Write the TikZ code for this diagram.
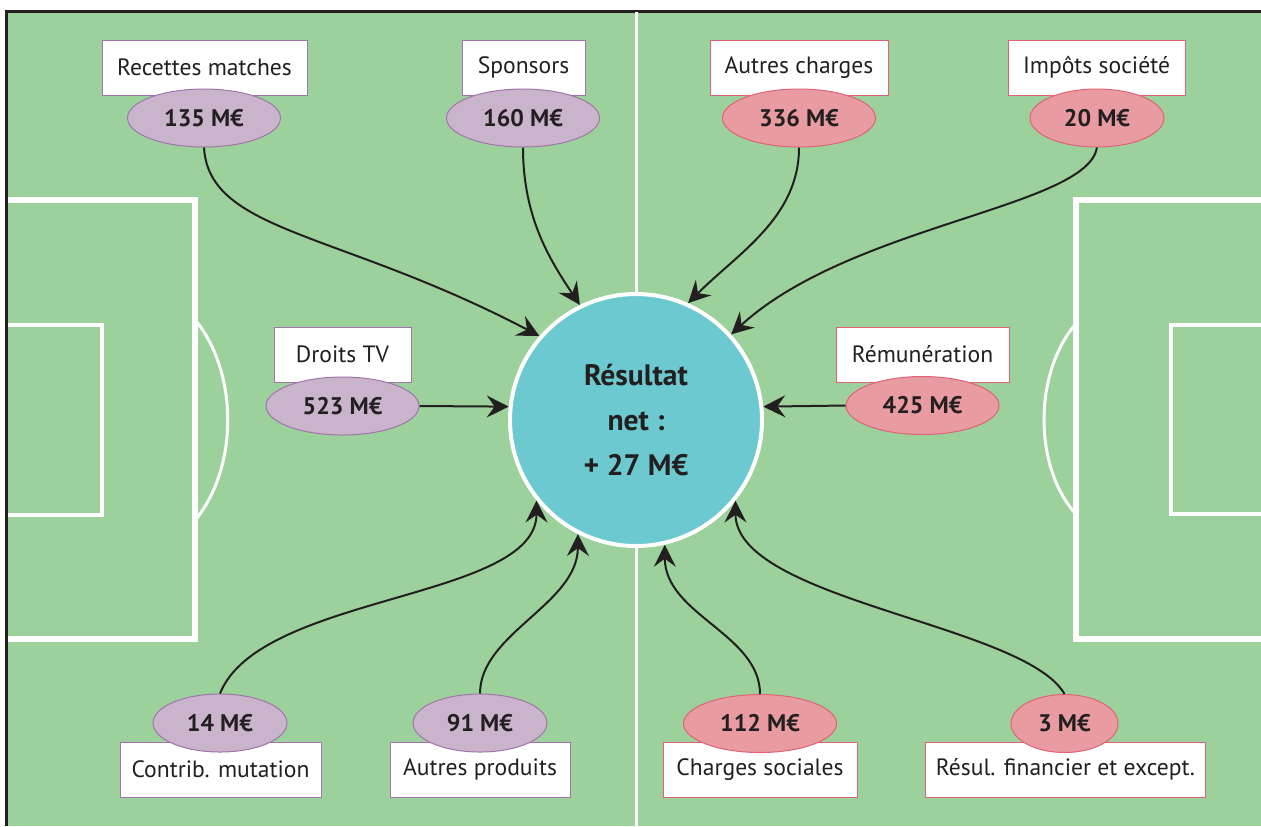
\documentclass[tikz,border=0pt]{standalone}
\usepackage{fontspec}
\setmainfont{PT Sans}
\usetikzlibrary{shapes.geometric,arrows.meta}

\definecolor{pitch}{HTML}{9CD19B}
\definecolor{resfill}{HTML}{6CC9D0}
\definecolor{inedge}{HTML}{A174AB}
\definecolor{infill}{HTML}{C9B4CC}
\definecolor{outedge}{HTML}{E06277}
\definecolor{outfill}{HTML}{E89CA1}
\definecolor{ink}{HTML}{231F20}

\begin{document}
\begin{tikzpicture}[x=0.5pt, y=-0.5pt,
    pitchline/.style={draw=white, line width=#1},
    lbl/.style={rectangle, fill=white, line width=0.5pt, minimum height=27.5pt,
        text=ink, font=\fontsize{11.8}{13}\selectfont},
    inlbl/.style={lbl, draw=inedge},
    outlbl/.style={lbl, draw=outedge},
    val/.style={ellipse, line width=0.5pt, minimum height=29pt, inner sep=0pt,
        text=ink, font=\fontsize{12}{14}\selectfont\bfseries},
    inval/.style={val, draw=inedge, fill=infill},
    outval/.style={val, draw=outedge, fill=outfill},
    flow/.style={draw=ink, line width=1pt, -{Stealth[length=11pt, width=11pt, inset=4pt]}}]

    \useasboundingbox (0,0) rectangle (1261,826);
    \clip (0,0) rectangle (1261,826);

    % Pitch
    \fill[pitch] (7,11) rectangle (1261,826);
    \draw[ink, line width=1.5pt] (6.5,826) -- (6.5,11) -- (1261,11);
    \draw[pitchline=1.5pt] (636,12) -- (636,826);

    % Left penalty area
    \draw[pitchline=3pt] (8,200) -- (195,200) -- (195,639) -- (8,639);
    \draw[pitchline=2pt] (8,325) -- (102,325) -- (102,515) -- (8,515);
    \draw[pitchline=1.5pt] (197,322) .. controls (238,375) and (238,465) .. (197,518);

    % Right penalty area
    \draw[pitchline=3pt] (1270,200) -- (1076,200) -- (1076,639) -- (1270,639);
    \draw[pitchline=2pt] (1270,325) -- (1171,325) -- (1171,514) -- (1270,514);
    \draw[pitchline=1.5pt] (1074,326) .. controls (1034,375) and (1034,465) .. (1074,512);

    % Result
    \node[circle, draw=white, line width=2pt, fill=resfill, minimum size=126pt,
        align=center, text=ink, font=\fontsize{14.8}{22.5}\selectfont\bfseries]
        (res) at (636,420) {Résultat\\net :\\+ 27 M€};

    % Income
    \node[inlbl, minimum width=102.5pt] (recl) at (204.5,67.5) {Recettes matches};
    \node[inval, minimum width=76.5pt] (recv) at (204,118) {135 M€};
    \node[inlbl, minimum width=61.5pt] (spol) at (523.5,67.5) {Sponsors};
    \node[inval, minimum width=76.5pt] (spov) at (523,118) {160 M€};
    \node[inlbl, minimum width=68.5pt] (tvl) at (342.5,354.5) {Droits TV};
    \node[inval, minimum width=76.5pt] (tvv) at (342.5,406) {523 M€};
    \node[inlbl, minimum width=100.5pt] (mutl) at (220.5,769.5) {Contrib. mutation};
    \node[inval, minimum width=67pt] (mutv) at (220,723) {14 M€};
    \node[inlbl, minimum width=90pt] (prol) at (480,769.5) {Autres produits};
    \node[inval, minimum width=67pt] (prov) at (480,723) {91 M€};

    % Expenses
    \node[outlbl, minimum width=89pt] (autl) at (799,67.5) {Autres charges};
    \node[outval, minimum width=76.5pt] (autv) at (799,118) {336 M€};
    \node[outlbl, minimum width=88.5pt] (impl) at (1096.5,67.5) {Impôts société};
    \node[outval, minimum width=67pt] (impv) at (1097,118) {20 M€};
    \node[outlbl, minimum width=86.5pt] (reml) at (922.5,354.5) {Rémunération};
    \node[outval, minimum width=76.5pt] (remv) at (922.5,405.5) {425 M€};
    \node[outlbl, minimum width=97pt] (socl) at (760,769.5) {Charges sociales};
    \node[outval, minimum width=76.5pt] (socv) at (760,723.5) {112 M€};
    \node[outlbl, minimum width=140pt] (finl) at (1065.5,769.5) {Résul. financier et except.};
    \node[outval, minimum width=53.5pt] (finv) at (1064.5,723.5) {3 M€};

    % Flows
    \draw[flow] (recv.south) .. controls +(5,85) and +(-200,-105) .. (res.139);
    \draw[flow] (spov.south) .. controls +(0,70) and +(-30,-45) .. (res.116);
    \draw[flow] (tvv.east) -- (res.174);
    \draw[flow] (mutv.north) .. controls +(40,-100) and +(0,100) .. (res.219);
    \draw[flow] (prov.north) .. controls +(0,-60) and +(0,70) .. (res.243);
    \draw[flow] (autv.south) .. controls +(0,70) and +(50,-50) .. (res.66);
    \draw[flow] (impv.south) .. controls +(-10,60) and +(120,-110) .. (res.42);
    \draw[flow] (remv.west) -- (res.6);
    \draw[flow] (socv.north) .. controls +(0,-60) and +(0,70) .. (res.283);
    \draw[flow] (finv.north) .. controls +(-40,-70) and +(0,100) .. (res.321);
\end{tikzpicture}
\end{document}
